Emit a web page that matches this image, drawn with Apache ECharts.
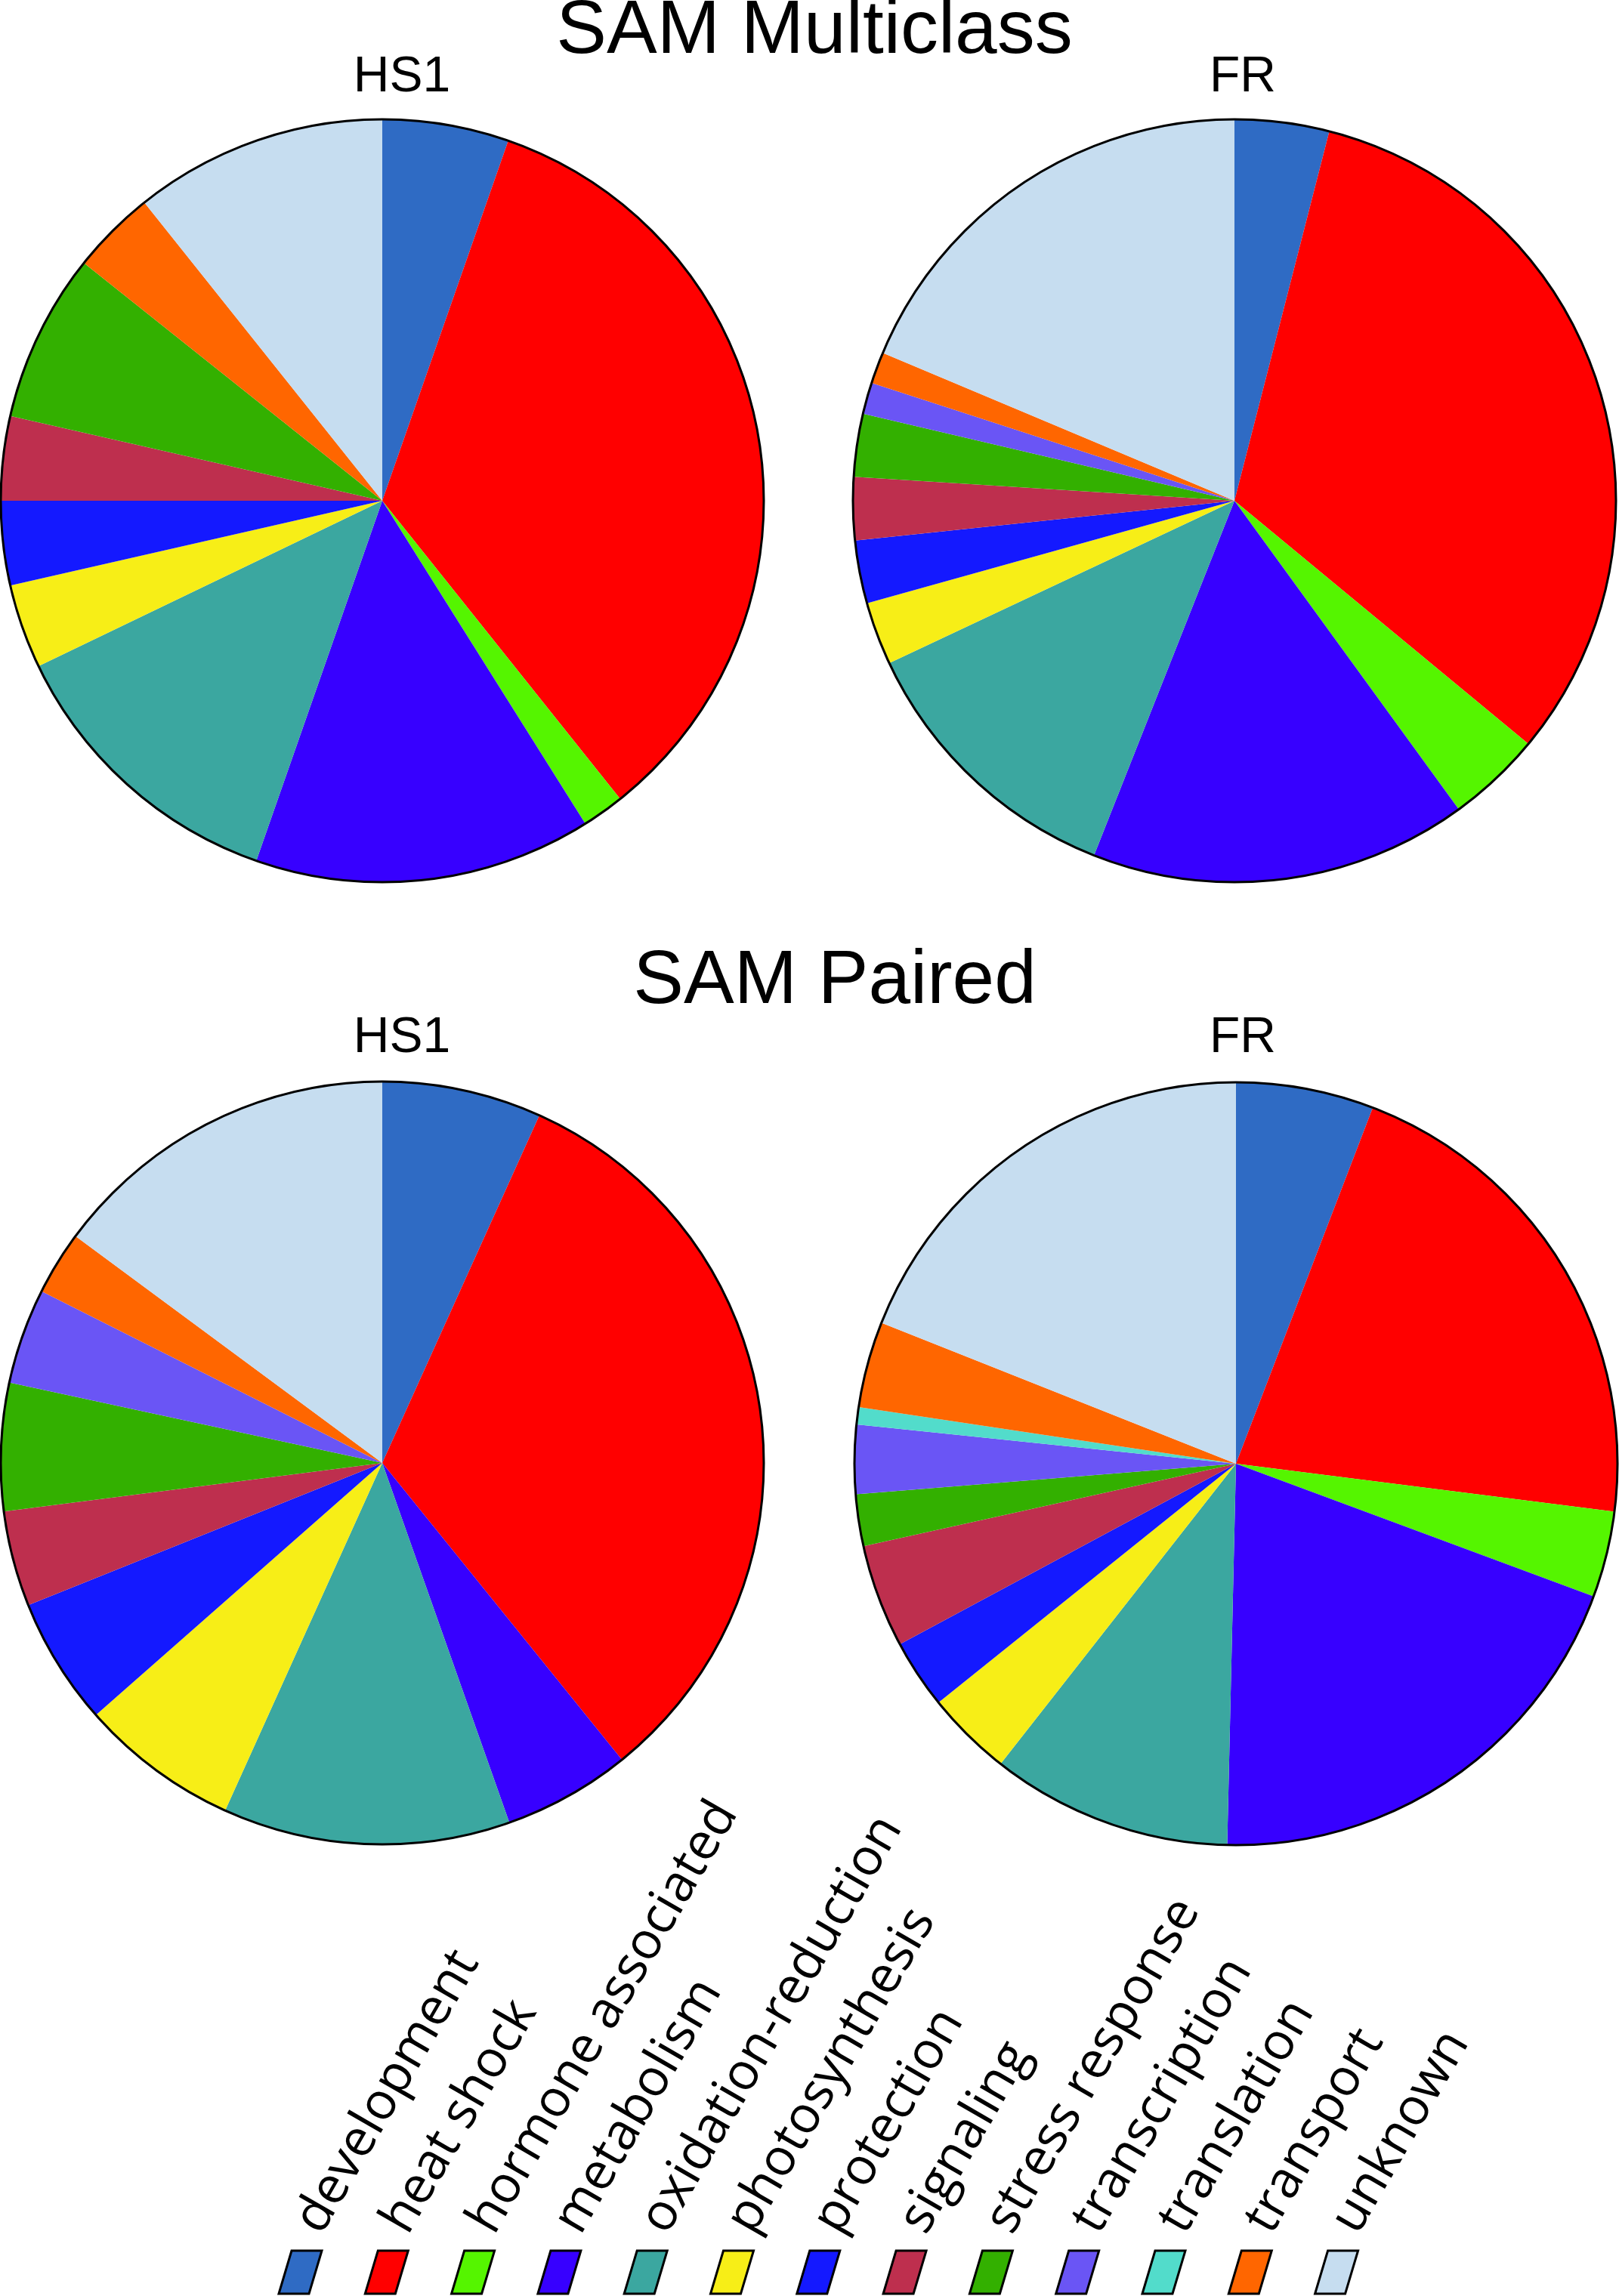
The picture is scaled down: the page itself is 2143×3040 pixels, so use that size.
<!DOCTYPE html>
<html>
<head>
<meta charset="utf-8">
<title>SAM Multiclass / SAM Paired</title>
<script src="https://cdn.jsdelivr.net/npm/echarts/dist/echarts.min.js"></script>
<style>
    html, body { margin: 0; padding: 0; background: #fff; }
    #main { width: 2143px; height: 3040px; }
</style>
</head>
<body>
<div id="main"></div>
<script>
// 功能分类
var categories = ['development', 'heat shock', 'hormone associated', 'metabolism',
    'oxidation-reduction', 'photosynthesis', 'protection', 'signaling',
    'stress response', 'transcription', 'translation', 'transport', 'unknown'];

// 每个饼图的基因数(按分类顺序)
var hs1Multiclass = [3, 19, 1, 8, 7, 2, 2, 2, 4, 0, 0, 2, 6];
var frMulticlass  = [3, 24, 3, 12, 9, 2, 2, 2, 2, 1, 0, 1, 14];
var hs1Paired     = [5, 24, 0, 4, 9, 5, 4, 3, 4, 3, 0, 2, 11];
var frPaired      = [8, 29, 5, 27, 14, 5, 4, 6, 3, 4, 1, 5, 26];

var groupTitles = ['SAM Multiclass', 'SAM Paired'];
var pieTitles = ['HS1', 'FR'];

var colors = ['#2f6bc4', '#ff0000', '#55f500', '#3700ff', '#3ba7a0', '#f7ee17',
    '#1419ff', '#be2f4e', '#33b000', '#6a55f5', '#52dccb', '#ff6600', '#c6ddf0'];

var R = 505;
var pies = [
    {values: hs1Multiclass, center: [506, 663]},
    {values: frMulticlass, center: [1634, 663]},
    {values: hs1Paired, center: [506, 1937]},
    {values: frPaired, center: [1636, 1938]}
];

function pieData(values) {
    var arr = [];
    for (var i = 0; i < values.length; i++) {
        if (values[i] > 0) {
            arr.push({name: categories[i], value: values[i], itemStyle: {color: colors[i]}});
        }
    }
    return arr;
}

var series = [];
pies.forEach(function (p) {
    series.push({
        type: 'pie',
        center: p.center,
        radius: R,
        startAngle: 90,
        clockwise: true,
        silent: true,
        avoidLabelOverlap: false,
        label: {show: false},
        labelLine: {show: false},
        emphasis: {disabled: true},
        itemStyle: {borderWidth: 0, borderRadius: 0},
        padAngle: 0,
        data: pieData(p.values)
    });
    // 外圈黑线
    series.push({
        type: 'pie',
        center: p.center,
        radius: R,
        silent: true,
        z: 3,
        label: {show: false},
        labelLine: {show: false},
        emphasis: {disabled: true},
        data: [{value: 1, itemStyle: {color: 'rgba(0,0,0,0)', borderColor: '#000', borderWidth: 3}}]
    });
});

// 标题
var titles = [
    {text: groupTitles[0], left: 1078, top: -8, textAlign: 'center', padding: 0,
        textStyle: {fontSize: 100, fontWeight: 'normal', fontFamily: 'Liberation Sans', color: '#000'}},
    {text: groupTitles[1], left: 1105, top: 1250, textAlign: 'center', padding: 0,
        textStyle: {fontSize: 100, fontWeight: 'normal', fontFamily: 'Liberation Sans', color: '#000'}}
];
var subTop = [70, 1342];
var subLeft = [532, 1645];
for (var r = 0; r < 2; r++) {
    for (var c = 0; c < 2; c++) {
        titles.push({text: pieTitles[c], left: subLeft[c], top: subTop[r], textAlign: 'center', padding: 0,
            textStyle: {fontSize: 66, fontWeight: 'normal', fontFamily: 'Liberation Sans', color: '#000'}});
    }
}

// 图例: 斜的色块 + 旋转文字
var graphic = [];
for (var i = 0; i < categories.length; i++) {
    var x0 = 386 + i * 114.3;
    graphic.push({
        type: 'polygon',
        shape: {points: [[x0, 2980], [x0 + 40, 2980], [x0 + 23, 3037], [x0 - 17, 3037]]},
        style: {fill: colors[i], stroke: '#000', lineWidth: 3}
    });
    graphic.push({
        type: 'text',
        x: x0 + 52,
        y: 2968,
        rotation: Math.PI / 3,
        style: {
            text: categories[i],
            fontSize: 68,
            fontFamily: 'Open Sans',
            fill: '#000',
            textAlign: 'left',
            textVerticalAlign: 'bottom',
            align: 'left',
            verticalAlign: 'bottom'
        }
    });
}

var chart = echarts.init(document.getElementById('main'), null, {renderer: 'canvas'});
chart.setOption({
    backgroundColor: '#fff',
    animation: false,
    title: titles,
    series: series,
    graphic: graphic
});
</script>
</body>
</html>
